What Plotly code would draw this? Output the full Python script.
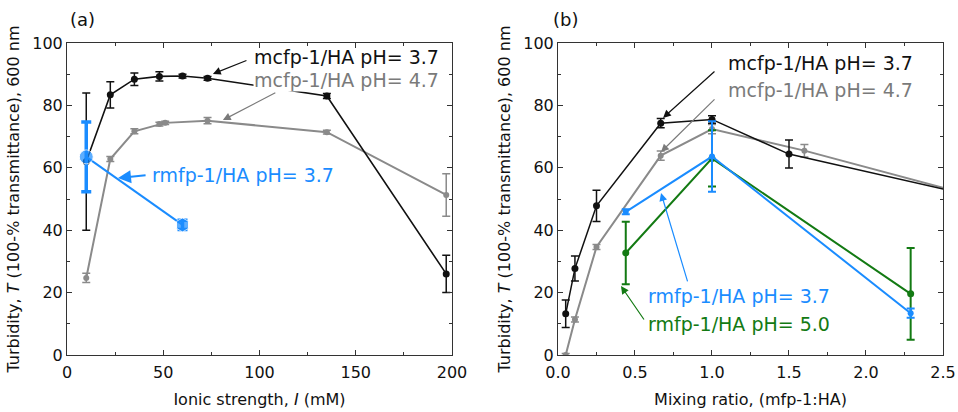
import plotly.graph_objects as go

# ---------------- Panel (a): Ionic strength ----------------
a_black_x = [10, 22.5, 35, 48, 60, 73, 135, 197]
a_black_y = [62, 83.4, 88.4, 89.3, 89.4, 88.7, 83.0, 26]
a_black_e = [22, 4.2, 2.0, 1.5, 0.6, 0.6, 0.8, 6]

a_gray_x = [10, 22.5, 35, 48, 51, 73, 135, 197]
a_gray_y = [24.7, 62.8, 71.7, 74.0, 74.4, 75.1, 71.4, 51.3]
a_gray_e = [1.5, 0.8, 0.8, 0.6, 0.5, 1.0, 0.6, 6.8]

a_blue_x = [10, 60]
a_blue_y = [63.5, 41.7]
a_blue_e = [11.2, 1.5]

# ---------------- Panel (b): Mixing ratio ----------------
b_black_x = [0.05, 0.11, 0.25, 0.667, 1.0, 1.5, 3.0]
b_black_y = [13.2, 27.7, 47.8, 74.3, 75.5, 64.4, 47.6]
b_black_e = [4.4, 4.0, 5.0, 1.5, 1.2, 4.5, 0]

b_gray_x = [0.05, 0.11, 0.25, 0.667, 1.0, 1.6, 3.0]
b_gray_y = [0.0, 11.4, 34.6, 63.9, 72.4, 65.5, 47.0]
b_gray_e = [0.5, 0.8, 0.8, 1.5, 1.5, 2.0, 0]

b_blue_x = [0.44, 1.0, 2.29]
b_blue_y = [45.9, 63.6, 13.4]
b_blue_e = [0.8, 11.3, 1.5]

b_green_x = [0.44, 1.0, 2.29]
b_green_y = [32.7, 63.0, 19.6]
b_green_e = [10.0, 9.0, 14.7]

BLACK = "#111111"
GRAY = "#8a8a8a"
GRAYTXT = "#7a7a7a"
BLUE = "#1a8cff"
GREEN = "#137a13"
FONT = "DejaVu Sans"

fig = go.Figure()


def add_series(x, y, e, color, xa, ya, msize=7, symbol="circle", lw=1.6,
               ethick=1.5, ewidth=4):
    fig.add_trace(go.Scatter(
        x=x, y=y, mode="lines+markers", xaxis=xa, yaxis=ya,
        line=dict(color=color, width=lw),
        marker=dict(color=color, size=msize, symbol=symbol),
        error_y=dict(type="data", array=e, visible=True, color=color,
                     thickness=ethick, width=ewidth),
        showlegend=False, cliponaxis=True))


# panel a
add_series(a_gray_x, a_gray_y, a_gray_e, GRAY, "x", "y", msize=6, lw=2)
add_series(a_black_x, a_black_y, a_black_e, BLACK, "x", "y", msize=7, lw=1.6)
fig.add_trace(go.Scatter(
    x=a_blue_x, y=a_blue_y, mode="lines+markers", xaxis="x", yaxis="y",
    line=dict(color=BLUE, width=2),
    marker=dict(color=BLUE, size=[14, 14], symbol=["circle", "hexagon"]),
    error_y=dict(type="data", array=a_blue_e, visible=True, color=BLUE,
                 thickness=3.5, width=5),
    showlegend=False))

# panel b
add_series(b_gray_x, b_gray_y, b_gray_e, GRAY, "x2", "y2", msize=6, lw=2)
add_series(b_black_x, b_black_y, b_black_e, BLACK, "x2", "y2", msize=7, lw=1.5)
add_series(b_green_x, b_green_y, b_green_e, GREEN, "x2", "y2", msize=7, lw=2,
           ethick=2)
add_series(b_blue_x, b_blue_y, b_blue_e, BLUE, "x2", "y2", msize=6, lw=2,
           ethick=2)

tickfont = dict(family=FONT, size=16, color="#111111")
titlefont = dict(family=FONT, size=16, color="#111111")
ytitle = "Turbidity, <i>T</i> (100-% transmittance), 600 nm"

common_axis = dict(
    showline=True, linecolor="#333333", linewidth=1, mirror="allticks",
    ticks="inside", ticklen=5, tickwidth=1, tickcolor="#333333",
    showgrid=False, zeroline=False, tickfont=tickfont, automargin=False,
)

fig.update_layout(
    width=958, height=412,
    margin=dict(l=67, r=15, t=43, b=57),
    paper_bgcolor="white", plot_bgcolor="white",
    font=dict(family=FONT, size=16, color="#111111"),
    xaxis=dict(domain=[0, 0.4395], range=[0, 200], dtick=50,
               ticklabelstandoff=3,
               minor=dict(ticks="inside", dtick=25, ticklen=3, tickcolor="#333333"),
               title=dict(text="Ionic strength, <i>I</i> (mM)", font=titlefont, standoff=12),
               **common_axis),
    yaxis=dict(domain=[0, 1], range=[0, 100], dtick=20,
               minor=dict(ticks="inside", dtick=10, ticklen=3, tickcolor="#333333"),
               title=dict(text=ytitle, font=titlefont, standoff=8),
               **common_axis),
    xaxis2=dict(domain=[0.5605, 1], range=[0, 2.5], dtick=0.5, tickformat=".1f",
                anchor="y2", ticklabelstandoff=3,
                minor=dict(ticks="inside", dtick=0.25, ticklen=3, tickcolor="#333333"),
                title=dict(text="Mixing ratio, (mfp-1:HA)", font=titlefont, standoff=12),
                **common_axis),
    yaxis2=dict(domain=[0, 1], range=[0, 100], dtick=20, anchor="x2",
                minor=dict(ticks="inside", dtick=10, ticklen=3, tickcolor="#333333"),
                title=dict(text=ytitle, font=titlefont, standoff=8),
                **common_axis),
)

ann = []
afont = 19


def label(text, x, y, color, xref, yref, bg=None):
    d = dict(text=text, x=x, y=y, xref=xref, yref=yref, showarrow=False,
             xanchor="left", yanchor="middle",
             font=dict(family=FONT, size=afont, color=color))
    if bg:
        d["bgcolor"] = bg
        d["borderpad"] = 0
    ann.append(d)


def arrow(x, y, ax, ay, color, xref, yref, width=1.2, size=1.3):
    ann.append(dict(text="", x=x, y=y, ax=ax, ay=ay, xref=xref, yref=yref,
                    axref=xref, ayref=yref, showarrow=True, arrowhead=2,
                    arrowsize=size, arrowwidth=width, arrowcolor=color))


# panel a annotations
arrow(75.8, 90.1, 94, 94.6, BLACK, "x", "y")
arrow(81, 75.3, 109, 84.3, GRAYTXT, "x", "y")
arrow(26.5, 56.7, 41.6, 57.7, BLUE, "x", "y", width=2)
label("mcfp-1/HA pH= 3.7", 96, 95.5, BLACK, "x", "y")
label("mcfp-1/HA pH= 4.7", 96.5, 88.1, GRAYTXT, "x", "y", bg="white")
label("rmfp-1/HA pH= 3.7", 43, 57.7, BLUE, "x", "y")

# panel b annotations
arrow(0.682, 76.0, 1.026, 91.3, BLACK, "x2", "y2")
arrow(0.669, 65.1, 1.026, 82.4, GRAYTXT, "x2", "y2")
arrow(0.669, 51.9, 0.844, 23.1, BLUE, "x2", "y2")
arrow(0.409, 22.1, 0.565, 10.9, GREEN, "x2", "y2")
label("mcfp-1/HA pH= 3.7", 1.091, 93.6, BLACK, "x2", "y2")
label("mcfp-1/HA pH= 4.7", 1.091, 84.9, GRAYTXT, "x2", "y2")
label("rmfp-1/HA pH= 3.7", 0.571, 18.9, BLUE, "x2", "y2")
label("rmfp-1/HA pH= 5.0", 0.571, 9.9, GREEN, "x2", "y2")

# panel labels
ann.append(dict(text="(a)", x=0.018, y=1.074, xref="paper", yref="paper",
                showarrow=False, xanchor="center", yanchor="middle",
                font=dict(family=FONT, size=18, color="#111111")))
ann.append(dict(text="(b)", x=0.5696, y=1.074, xref="paper", yref="paper",
                showarrow=False, xanchor="center", yanchor="middle",
                font=dict(family=FONT, size=18, color="#111111")))

fig.update_layout(annotations=ann)

fig.write_html("out.html",
               config={"displayModeBar": False, "staticPlot": True},
               post_script="document.body.style.margin='0';"
                           "document.body.style.overflow='hidden';")
